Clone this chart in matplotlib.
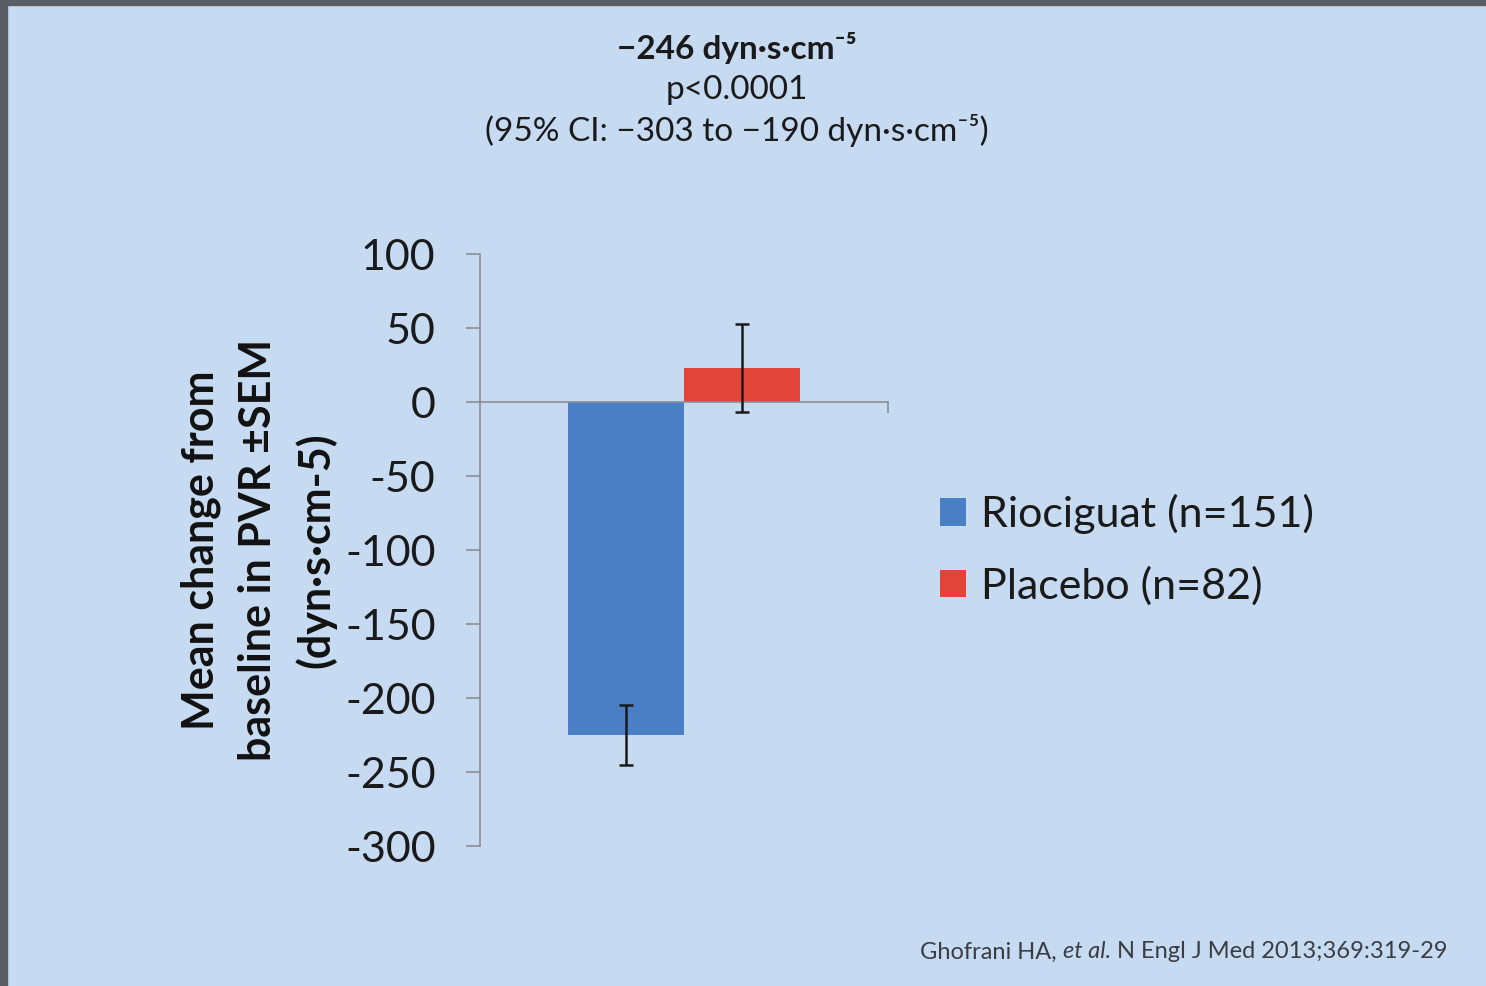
import matplotlib
matplotlib.use("Agg")
import matplotlib.pyplot as plt
from matplotlib.patches import Rectangle

plt.rcParams['font.family'] = ['Lato', 'DejaVu Sans']

# PVR change from baseline, mean and SEM
groups = ['Riociguat (n=151)', 'Placebo (n=82)']
means = [-225, 23]
sems = [20, 30]
colors = ['#4A7FC6', '#E2443A']

yticks = [100, 50, 0, -50, -100, -150, -200, -250, -300]

header = ['\u2212246 dyn\u00b7s\u00b7cm\u207b\u2075',
          'p<0.0001',
          '(95% CI: \u2212303 to \u2212190 dyn\u00b7s\u00b7cm\u207b\u2075)']
ylabel = 'Mean change from\nbaseline in PVR \u00b1SEM\n(dyn\u00b7s\u00b7cm-5)'
cite = ['Ghofrani HA, ', 'et al.', ' N Engl J Med 2013;369:319-29']

bg = '#C6DAF2'
axis_col = '#8A8F96'
W, H = 1486, 986

fig = plt.figure(figsize=(W / 100, H / 100), dpi=100, facecolor=bg)
ax = fig.add_axes([480 / W, 1 - 846 / H, 408 / W, 592 / H])
ax.set_facecolor(bg)

width = 0.285
offsets = [-width / 2, width / 2]
for g, m, s, c, o in zip(groups, means, sems, colors, offsets):
    ax.bar(o, m, width=width, color=c, label=g, zorder=2)
    ax.errorbar(o, m, yerr=s, fmt='none', ecolor='#1a1a1a', elinewidth=1.8,
                capsize=5, capthick=1.8, zorder=3)

ax.set_xlim(-0.5, 0.5)
ax.set_ylim(-300, 100)
ax.set_yticks(yticks)
ax.set_yticklabels([str(v) for v in yticks])
ax.tick_params(axis='y', direction='out', length=10, width=1.2,
               color=axis_col, labelsize=31, pad=22, labelcolor='#1a1a1a')

for side in ['top', 'right']:
    ax.spines[side].set_visible(False)
ax.spines['left'].set_color(axis_col)
ax.spines['left'].set_linewidth(1.2)
ax.spines['bottom'].set_position(('data', 0))
ax.spines['bottom'].set_color(axis_col)
ax.spines['bottom'].set_linewidth(1.2)
ax.set_xticks([0.5])
ax.set_xticklabels([''])
ax.tick_params(axis='x', direction='out', length=8, width=1.2, color=axis_col)

ax.set_ylabel(ylabel, fontsize=31, fontweight='bold', color='#111111',
              labelpad=6, linespacing=1.5)

leg = ax.legend(loc='center left', bbox_to_anchor=(1.127, 0.5), frameon=False,
                fontsize=31, handlelength=0.6, handleheight=0.6, borderpad=0,
                borderaxespad=0, handletextpad=0.35, labelspacing=0.75,
                labelcolor='#1a1a1a')

# header lines above the plot
fig.text(737 / W, 1 - 48 / H, header[0], ha='center', va='center',
         fontsize=24, fontweight='bold', color='#1a1a1a')
fig.text(737 / W, 1 - 90 / H, header[1], ha='center', va='center',
         fontsize=24, color='#1a1a1a')
fig.text(737 / W, 1 - 130 / H, header[2], ha='center', va='center',
         fontsize=24, color='#1a1a1a')

# citation with italic "et al."
fig.canvas.draw()
r = fig.canvas.get_renderer()
x = 920
for i, part in enumerate(cite):
    t = fig.text(x / W, 1 - 952 / H, part, ha='left', va='center', fontsize=17,
                 color='#3a3d42', style='italic' if i == 1 else 'normal')
    x += t.get_window_extent(renderer=r).width

# dark frame on the top and left edges
fig.patches.append(Rectangle((0, 0), 7 / W, 1, transform=fig.transFigure,
                             color='#5A5E64', zorder=10))
fig.patches.append(Rectangle((0, 1 - 5 / H), 1, 5 / H, transform=fig.transFigure,
                             color='#5A5E64', zorder=10))

fig.savefig('out.png', dpi=100, facecolor=bg)
